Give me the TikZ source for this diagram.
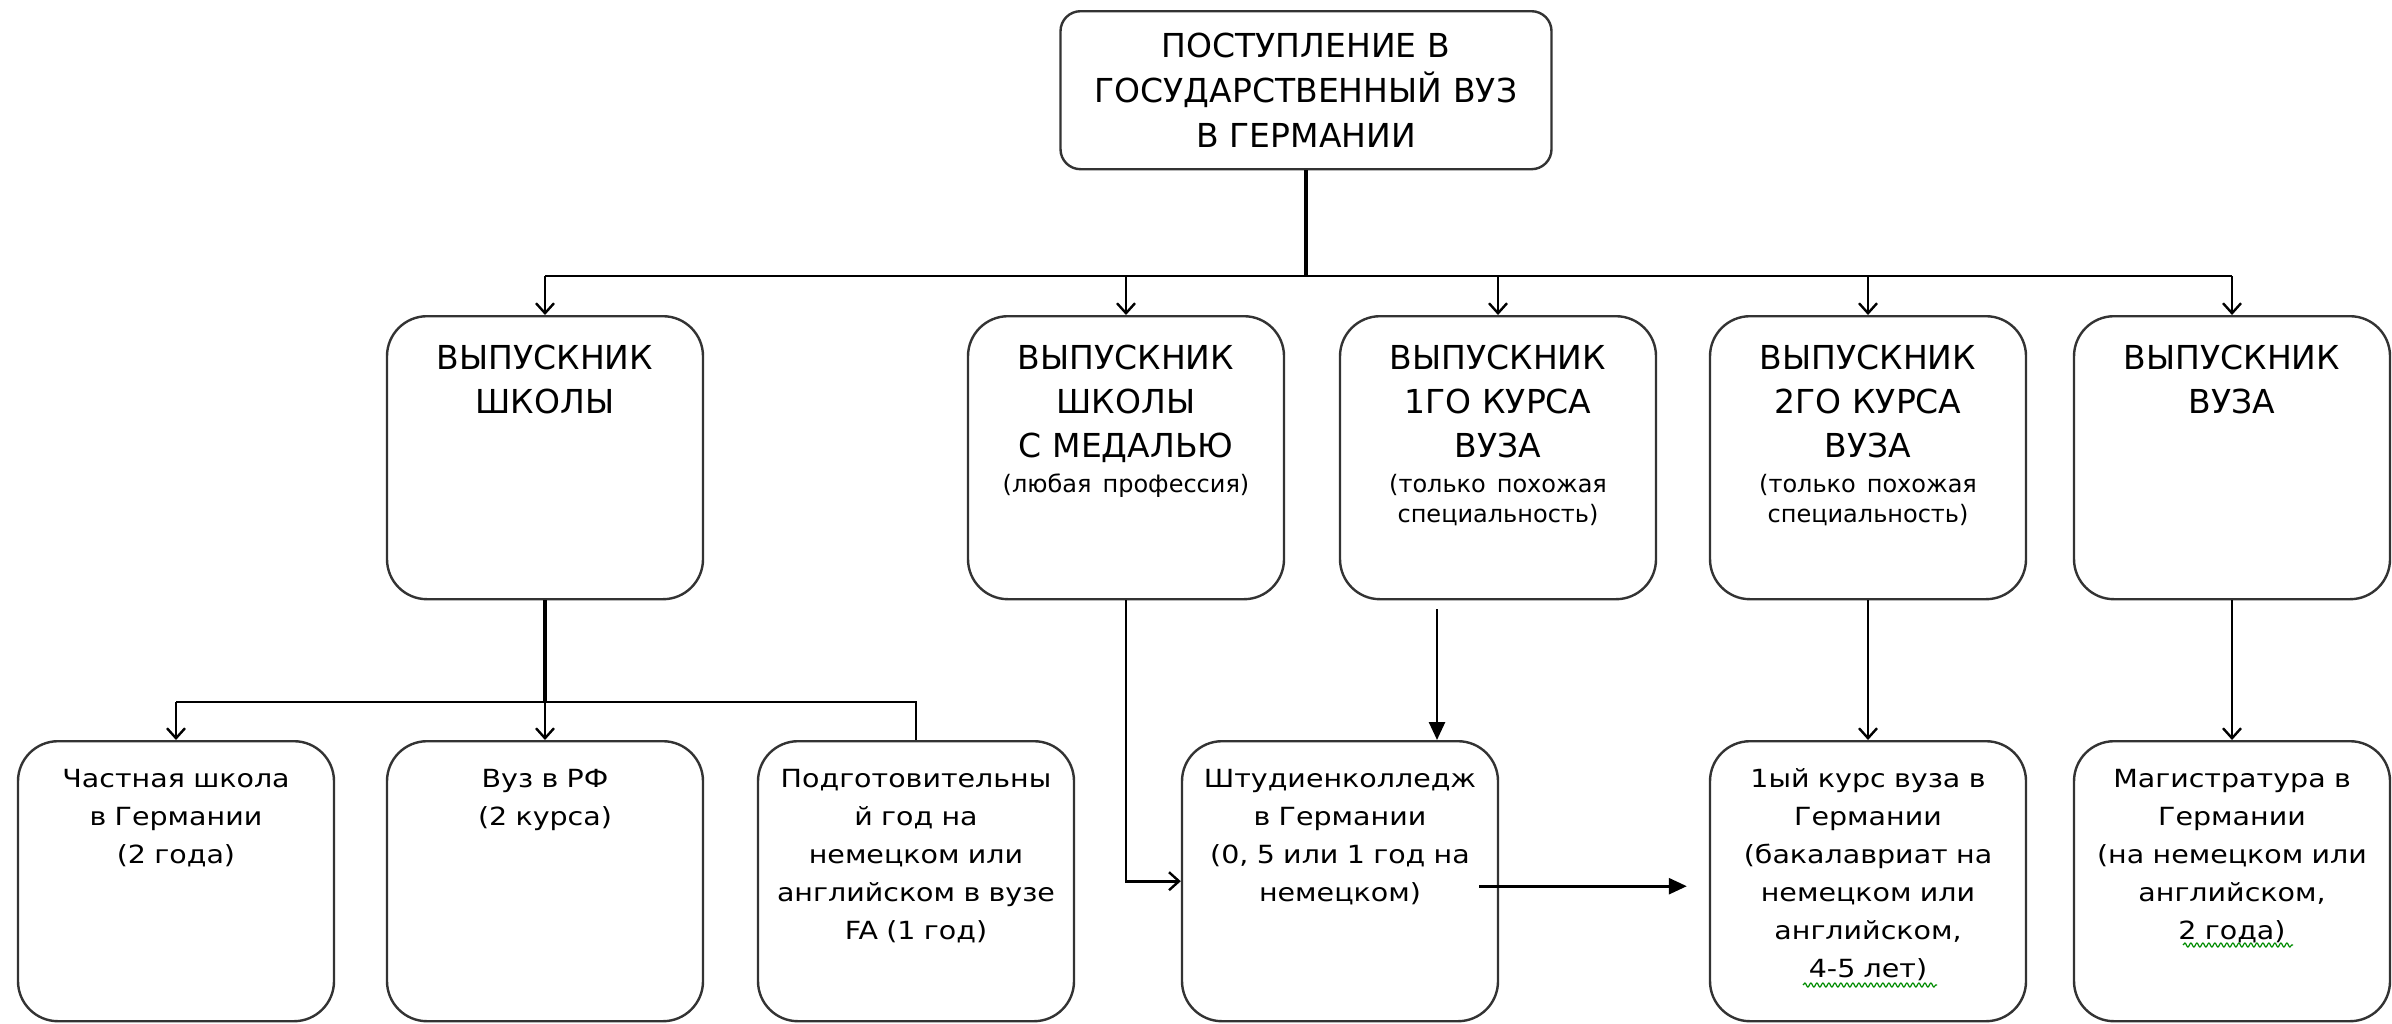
\documentclass[tikz,border=0pt]{standalone}
\usepackage{fontspec}
\setmainfont{DejaVu Sans}
\newfontfamily\widefont[FakeStretch=1.14]{DejaVu Sans}
\usetikzlibrary{arrows.meta, positioning, calc, decorations.pathmorphing}
\newcommand\subnote[1]{\par\vspace{2.5pt}{\fontsize{12}{15}\selectfont #1\par}}

\begin{document}
\begin{tikzpicture}[x=0.5pt, y=-0.5pt,
            head/.style={draw=black!80, line width=1.2pt, rounded corners=10pt, fill=white,
                align=center, anchor=north, inner xsep=2pt, inner ysep=0pt,
                text width=241.5pt, text height=23pt, text depth=56pt,
                font=\fontsize{16.5}{22.5}\selectfont},
            grad/.style={head, rounded corners=20pt, text width=154pt,
                text height=26.5pt, text depth=115pt, font=\fontsize{16.5}{22}\selectfont},
            route/.style={head, rounded corners=20pt, text width=154pt,
                text height=23pt, text depth=117pt, font=\widefont\fontsize{12.5}{19}\selectfont},
            link/.style={line width=1.3pt},
            barb/.style={link, -{Straight Barb[length=5pt,width=9pt,line width=1.2pt]}},
            tri/.style={link, -{Triangle[length=9pt,width=8pt]}},
            spell/.style={green!55!black, line width=0.6pt, decorate,
                decoration={snake, amplitude=1pt, segment length=3pt}}]
            \path[use as bounding box, fill=white] (0,0) rectangle (2392,1023);

            % top
            \node[head] 	(top)		at (1306,10)	{ПОСТУПЛЕНИЕ В\\ГОСУДАРСТВЕННЫЙ ВУЗ\\В ГЕРМАНИИ};

            % who applies
            \node[grad] 	(school)	at (545,315)	{ВЫПУСКНИК\\ШКОЛЫ};
            \node[grad] 	(medal)		at (1126,315)	{ВЫПУСКНИК\\ШКОЛЫ\\С МЕДАЛЬЮ\subnote{(любая профессия)}};
            \node[grad] 	(first)		at (1498,315)	{ВЫПУСКНИК\\1ГО КУРСА\\ВУЗА\subnote{(только похожая\\специальность)}};
            \node[grad] 	(second)	at (1868,315)	{ВЫПУСКНИК\\2ГО КУРСА\\ВУЗА\subnote{(только похожая\\специальность)}};
            \node[grad] 	(alumni)	at (2232,315)	{ВЫПУСКНИК\\ВУЗА};

            % routes
            \node[route] 	(private)	at (176,740)	{Частная школа\\в Германии\\(2 года)};
            \node[route] 	(rfuni)		at (545,740)	{Вуз в РФ\\(2 курса)};
            \node[route] 	(prep)		at (916,740)	{Подготовительны\\й год на\\немецком или\\английском в вузе\\FA (1 год)};
            \node[route] 	(kolleg)	at (1340,740)	{Штудиенколледж\\в Германии\\(0, 5 или 1 год на\\немецком)};
            \node[route] 	(bachelor)	at (1868,740)	{1ый курс вуза в\\Германии\\(бакалавриат на\\немецком или\\английском,\\4-5 лет)};
            \node[route] 	(master)	at (2232,740)	{Магистратура в\\Германии\\(на немецком или\\английском,\\2 года)};

            \coordinate (bus)  at (1306,276);
            \coordinate (fork) at (545,702);

            \draw[link, line width=2pt] (top) -- (bus);
            \draw[link] (school.north |- bus) -- (alumni.north |- bus);
            \foreach \n in {school, medal, first, second, alumni}
                \draw[barb] (\n.north |- bus) -- (\n.north);

            \draw[link, line width=1.6pt] (school) -- (fork);
            \draw[link] (private.north |- fork) -- (prep.north |- fork) -- (prep.north);
            \draw[barb] (private.north |- fork) -- (private.north);
            \draw[barb] (rfuni.north |- fork) -- (rfuni.north);

            \draw[barb] (medal.south) |- (kolleg.west);
            \draw[tri]  ([xshift=-30.5pt,yshift=-4.5pt]first.south) -- ([xshift=-30.5pt]first.south |- kolleg.north);
            \draw[tri, shorten >=11pt] ([xshift=-10pt,yshift=-2.5pt]kolleg.east) -- ([yshift=-2.5pt]bachelor.west);
            \draw[barb] (second) -- (bachelor);
            \draw[barb] (alumni) -- (master);

            % spell check marks
            \draw[spell] ([xshift=-32.5pt,yshift=-122.5pt]bachelor.north) -- ++(134,0);
            \draw[spell] ([xshift=-24.5pt,yshift=-102.5pt]master.north) -- ++(110,0);
\end{tikzpicture}
\end{document}
